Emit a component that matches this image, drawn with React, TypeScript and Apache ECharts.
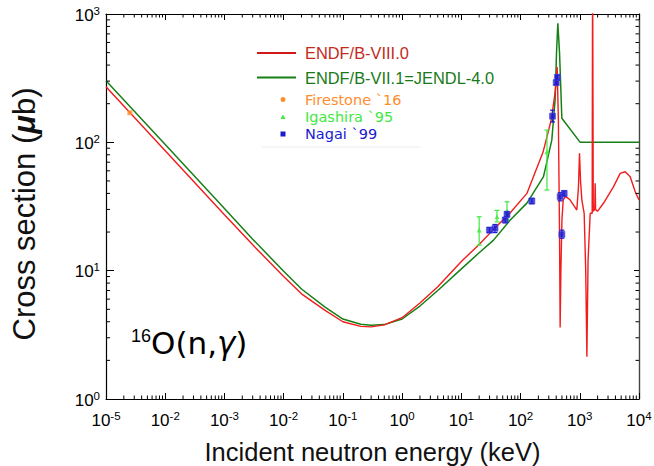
import React, { useEffect, useRef } from "react";
import * as echarts from "echarts";

const FONT = "'Liberation Sans', Arial, Helvetica, sans-serif";
const WIDE = "'DejaVu Sans', Verdana, sans-serif";

// ENDF/B-VIII.0 (red)
const redE = [1e-5, 1e-4, 1e-3, 3e-3, 1e-2, 2e-2, 5e-2, 0.1, 0.2, 0.3, 0.5, 1, 2, 4, 10, 20, 34, 66, 128, 240, 330, 390, 415, 435, 455, 466, 480, 500, 525, 567, 620, 689, 800, 891, 950, 990, 1030, 1085, 1186, 1260, 1318, 1380, 1500, 1620, 1645, 1665, 1690, 1790, 1820, 1850, 1990, 2510, 3700, 4810, 5850, 7100, 8630, 10000];
const redS = [271, 86, 27.3, 15.9, 9.0, 6.6, 4.9, 4.0, 3.68, 3.65, 3.78, 4.3, 5.6, 7.5, 11.8, 16, 20.7, 28, 40, 84, 150, 260, 386, 150, 20, 3.6, 10, 25, 35.5, 37.7, 37, 35.5, 32, 29.7, 45, 82, 50, 35.5, 28, 10, 2.13, 12, 28, 28, 3000, 3000, 29, 30, 48, 30, 29, 33.5, 45, 57.3, 59, 54, 41.2, 35.5];

// ENDF/B-VII.1 = JENDL-4.0 (green)
const greenE = [1e-5, 1e-4, 1e-3, 3e-3, 1e-2, 2e-2, 5e-2, 0.1, 0.2, 0.3, 0.5, 1, 2, 4, 9.5, 20, 35, 67, 128, 244, 337, 383, 405, 426, 455, 480, 498, 1017, 10000];
const greenS = [302, 96, 30.5, 17.6, 9.9, 7.2, 5.2, 4.2, 3.82, 3.76, 3.8, 4.2, 5.3, 7.0, 10.1, 13.8, 17.3, 24.8, 33.6, 54, 104, 214, 500, 846, 500, 250, 154, 100, 100];

// Firestone `16
const firestoneE = [2.53e-5];
const firestoneS = [170];

// Igashira `95
const igashiraE = [20, 40, 59, 279];
const igashiraS = [20.7, 26.3, 29, 84.5];
const igashiraLo = [15.8, 24, 24.9, 42.5];
const igashiraHi = [26.3, 29.5, 34.4, 124.6];

// Nagai `99
const nagaiE = [29.8, 37, 55, 59, 155, 347, 400, 419, 467, 545, 498];
const nagaiS = [20.7, 21.4, 24.8, 27.5, 34.9, 160, 292, 321, 37.7, 40, 19.2];
const nagaiLo = [19.8, 19.8, 23.6, 26.2, 33.2, 144, 280, 305, 35, 38, 17.9];
const nagaiHi = [21.7, 22.9, 26.0, 28.9, 36.6, 178, 305, 337, 40.5, 42, 20.7];

// tick labels (exponents as printed)
const xTickExps = [-5, -4, -3, -2, -1, 0, 1, 2, 3, 4];
const xTickLabelExps = ["-5", "-2", "-3", "-2", "-1", "0", "1", "2", "3", "4"];
const yTickExps = [0, 1, 2, 3];
const yTickLabelExps = ["0", "1", "2", "3"];

const RED = "#f21c1c";
const GREEN = "#168016";
const ORANGE = "#ff8c2e";
const LGREEN = "#3fe83f";
const BLUE = "#1a1acf";

function minorTicks(fromExp: number, toExp: number): number[] {
  const out: number[] = [];
  for (let d = fromExp; d < toExp; d++) {
    for (let m = 2; m <= 9; m++) out.push(m * Math.pow(10, d));
  }
  return out;
}

const richLabel = {
  b: { fontSize: 17, lineHeight: 19, fontFamily: FONT, color: "#000", verticalAlign: "bottom" as const },
  s: { fontSize: 11.5, lineHeight: 11, fontFamily: FONT, color: "#000", verticalAlign: "top" as const },
};

export default function App() {
  const ref = useRef<HTMLDivElement>(null);
  useEffect(() => {
    document.body.style.margin = "0";
    const chart = echarts.init(ref.current!, undefined, { renderer: "svg" });

    const xMinor = minorTicks(-5, 4);
    const yMinor = minorTicks(0, 3);

    const errRender = (color: string, cap: number) => (params: any, api: any) => {
      const x = api.value(0);
      const lo = api.value(1);
      const hi = api.value(2);
      const a = api.coord([x, lo]);
      const b = api.coord([x, hi]);
      const st = { stroke: color, lineWidth: 1.2 };
      return {
        type: "group",
        children: [
          { type: "line", shape: { x1: a[0], y1: a[1], x2: b[0], y2: b[1] }, style: st },
          { type: "line", shape: { x1: a[0] - cap, y1: a[1], x2: a[0] + cap, y2: a[1] }, style: st },
          { type: "line", shape: { x1: b[0] - cap, y1: b[1], x2: b[0] + cap, y2: b[1] }, style: st },
        ],
      };
    };

    const xMinorRender = (params: any, api: any) => {
      const cs = params.coordSys;
      const p = api.coord([api.value(0), 1]);
      const st = { stroke: "#000", lineWidth: 1 };
      return {
        type: "group",
        children: [
          { type: "line", shape: { x1: p[0], y1: cs.y + cs.height, x2: p[0], y2: cs.y + cs.height - 3.5 }, style: st },
          { type: "line", shape: { x1: p[0], y1: cs.y, x2: p[0], y2: cs.y + 3.5 }, style: st },
        ],
      };
    };
    const yMinorRender = (params: any, api: any) => {
      const cs = params.coordSys;
      const p = api.coord([1e-5, api.value(1)]);
      const st = { stroke: "#000", lineWidth: 1 };
      return {
        type: "group",
        children: [
          { type: "line", shape: { x1: cs.x, y1: p[1], x2: cs.x + 4, y2: p[1] }, style: st },
          { type: "line", shape: { x1: cs.x + cs.width, y1: p[1], x2: cs.x + cs.width - 3.5, y2: p[1] }, style: st },
        ],
      };
    };

    const xLabelFmt = (v: number) => {
      const e = Math.round(Math.log10(v));
      const i = xTickExps.indexOf(e);
      return i < 0 ? "" : "{b|10}{s|" + xTickLabelExps[i] + "}";
    };
    const yLabelFmt = (v: number) => {
      const e = Math.round(Math.log10(v));
      const i = yTickExps.indexOf(e);
      return i < 0 ? "" : "{b|10}{s|" + yTickLabelExps[i] + "}";
    };

    const axisCommon = {
      axisLine: { onZero: false, lineStyle: { color: "#000", width: 1.2 } },
      splitLine: { show: false },
      minorTick: { show: false },
      minorSplitLine: { show: false },
    };

    const option: any = {
      animation: false,
      backgroundColor: "#fff",
      grid: { left: 106, right: 15, top: 14, bottom: 67, containLabel: false, outerBoundsMode: "none" },
      xAxis: [
        {
          type: "log", logBase: 10, min: 1e-5, max: 1e4, interval: 1, position: "bottom",
          ...axisCommon,
          axisTick: { inside: true, length: 6, lineStyle: { color: "#000", width: 1 } },
          axisLabel: { margin: 11, formatter: xLabelFmt, rich: richLabel, showMinLabel: true, showMaxLabel: true, hideOverlap: false },
          name: "Incident neutron energy (keV)", nameLocation: "middle", nameGap: 40,
          nameTextStyle: { fontSize: 25.5, fontFamily: FONT, color: "#111" },
        },
        {
          type: "log", logBase: 10, min: 1e-5, max: 1e4, interval: 1, position: "top",
          ...axisCommon,
          axisTick: { inside: true, length: 6, lineStyle: { color: "#000", width: 1 } },
          axisLabel: { show: false },
        },
      ],
      yAxis: [
        {
          type: "log", logBase: 10, min: 1, max: 1000, interval: 1, position: "left",
          ...axisCommon,
          axisTick: { inside: true, length: 8, lineStyle: { color: "#000", width: 1 } },
          axisLabel: { margin: 6, formatter: yLabelFmt, rich: richLabel, showMinLabel: true, showMaxLabel: true },
        },
        {
          type: "log", logBase: 10, min: 1, max: 1000, interval: 1, position: "right",
          ...axisCommon,
          axisLine: { onZero: false, lineStyle: { color: "#444", width: 1.4 } },
          axisTick: { inside: true, length: 5, lineStyle: { color: "#000", width: 1 } },
          axisLabel: { show: false },
        },
      ],
      graphic: [
        {
          type: "text", x: 24, y: 214, rotation: Math.PI / 2,
          style: {
            text: "{t|Cross section (}{m|μ}{t|b)}",
            align: "center", verticalAlign: "middle", fontSize: 31, fontFamily: FONT, fill: "#111",
            rich: {
              t: { fontSize: 31, fontFamily: FONT, fill: "#111" },
              m: { fontSize: 31, fontFamily: FONT, fill: "#111", fontStyle: "italic", fontWeight: "bold" },
            },
          },
        },
        { type: "line", shape: { x1: 257, y1: 53, x2: 296, y2: 53 }, style: { stroke: "#d01818", lineWidth: 2 } },
        { type: "text", x: 305, y: 53, style: { text: "ENDF/B-VIII.0", fontSize: 16.4, fontFamily: FONT, fill: "#c42a1c", verticalAlign: "middle" } },
        { type: "line", shape: { x1: 257, y1: 77.5, x2: 296, y2: 77.5 }, style: { stroke: GREEN, lineWidth: 2 } },
        { type: "text", x: 305, y: 77.5, style: { text: "ENDF/B-VII.1=JENDL-4.0", fontSize: 16.4, fontFamily: FONT, fill: "#187a18", verticalAlign: "middle" } },
        { type: "circle", shape: { cx: 283, cy: 99.5, r: 2.5 }, style: { fill: ORANGE } },
        { type: "text", x: 305, y: 100, style: { text: "Firestone `16", fontSize: 14.5, fontFamily: WIDE, fill: ORANGE, verticalAlign: "middle" } },
        { type: "polygon", shape: { points: [[283, 114.5], [280.5, 119], [285.5, 119]] }, style: { fill: LGREEN } },
        { type: "text", x: 305, y: 117, style: { text: "Igashira `95", fontSize: 14.5, fontFamily: WIDE, fill: LGREEN, verticalAlign: "middle" } },
        { type: "rect", shape: { x: 280.5, y: 131.5, width: 5, height: 5 }, style: { fill: BLUE } },
        { type: "text", x: 305, y: 134, style: { text: "Nagai `99", fontSize: 14.5, fontFamily: WIDE, fill: BLUE, verticalAlign: "middle" } },
        { type: "line", shape: { x1: 262, y1: 147, x2: 420, y2: 147 }, style: { stroke: "#ececec", lineWidth: 1 } },
        {
          type: "text", x: 131, y: 343,
          style: {
            text: "{u|16}{o|O(n,}{g|γ}{o|)}",
            fontFamily: FONT, fill: "#000", verticalAlign: "middle",
            rich: {
              u: { fontSize: 18, lineHeight: 18, fontFamily: FONT, verticalAlign: "top" },
              o: { fontSize: 31, lineHeight: 32, fontFamily: WIDE },
              g: { fontSize: 31, lineHeight: 32, fontFamily: WIDE, fontStyle: "italic" },
            },
          },
        },
      ],
      series: [
        {
          type: "custom", name: "xminor", renderItem: xMinorRender, silent: true, z: 10, clip: false,
          data: xMinor.map((v) => [v, 1]),
        },
        {
          type: "custom", name: "yminor", renderItem: yMinorRender, silent: true, z: 10, clip: false,
          data: yMinor.map((v) => [1e-5, v]),
        },
        {
          type: "line", name: "ENDF/B-VII.1=JENDL-4.0", showSymbol: false, symbol: "none", z: 3,
          lineStyle: { color: GREEN, width: 1.5 },
          data: greenE.map((e, i) => [e, greenS[i]]),
        },
        {
          type: "line", name: "ENDF/B-VIII.0", showSymbol: false, symbol: "none", z: 4,
          lineStyle: { color: RED, width: 1.4 },
          data: redE.map((e, i) => [e, redS[i]]),
        },
        {
          type: "custom", name: "Igashira err", renderItem: errRender(LGREEN, 2.5), z: 5,
          data: igashiraE.map((e, i) => [e, igashiraLo[i], igashiraHi[i]]),
        },
        {
          type: "scatter", name: "Igashira `95", symbol: "triangle", symbolSize: 5, z: 6,
          itemStyle: { color: LGREEN },
          data: igashiraE.map((e, i) => [e, igashiraS[i]]),
        },
        {
          type: "custom", name: "Nagai err", renderItem: errRender(BLUE, 2.5), z: 7,
          data: nagaiE.map((e, i) => [e, nagaiLo[i], nagaiHi[i]]),
        },
        {
          type: "scatter", name: "Nagai `99", symbol: "rect", symbolSize: 6, z: 8,
          itemStyle: { color: BLUE, borderColor: "#4a4ae0", borderWidth: 0.8 },
          data: nagaiE.map((e, i) => [e, nagaiS[i]]),
        },
        {
          type: "scatter", name: "Firestone `16", symbol: "rect", symbolSize: 5, z: 8,
          itemStyle: { color: ORANGE },
          data: firestoneE.map((e, i) => [e, firestoneS[i]]),
        },
      ],
    };

    chart.setOption(option);
    return () => chart.dispose();
  }, []);

  return <div ref={ref} style={{ position: "absolute", left: 0, top: 0, width: 654, height: 466 }} />;
}
